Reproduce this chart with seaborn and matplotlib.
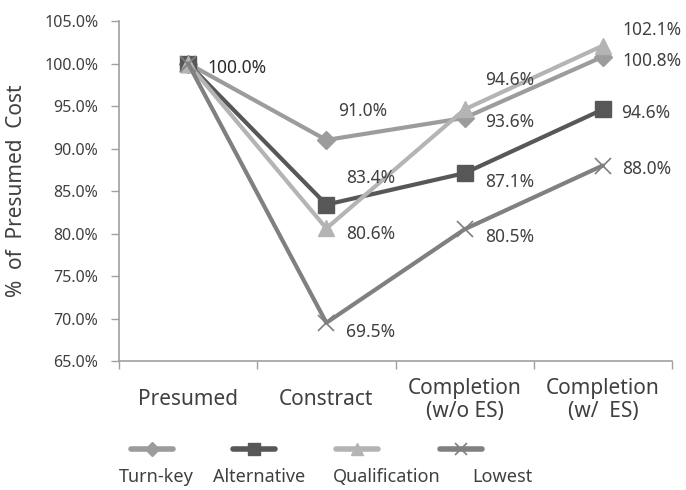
import matplotlib
matplotlib.use("Agg")
import matplotlib.pyplot as plt
from matplotlib.lines import Line2D
import seaborn as sns
import pandas as pd

stages = ["Presumed", "Constract", "Completion\n(w/o ES)", "Completion\n(w/  ES)"]
series_names = ["Turn-key", "Alternative", "Qualification", "Lowest"]
turnkey = [100.0, 91.0, 93.6, 100.8]
alternative = [100.0, 83.4, 87.1, 94.6]
qualification = [100.0, 80.6, 94.6, 102.1]
lowest = [100.0, 69.5, 80.5, 88.0]
yticks = [65, 70, 75, 80, 85, 90, 95, 100, 105]

values = {"Turn-key": turnkey, "Alternative": alternative,
          "Qualification": qualification, "Lowest": lowest}

colors = {"Turn-key": "#9c9c9c", "Alternative": "#575757",
          "Qualification": "#b4b4b4", "Lowest": "#808080"}
markers = {"Turn-key": "D", "Alternative": "s", "Qualification": "^", "Lowest": "x"}
msizes = {"Turn-key": 9, "Alternative": 11, "Qualification": 11, "Lowest": 11.5}

sns.set_style("white")
plt.rcParams["font.family"] = ["Noto Sans", "DejaVu Sans"]

fig = plt.figure(figsize=(6.86, 4.90), dpi=100)
ax = fig.add_axes([119/686, 1-361/490, (672-119)/686, (361-21)/490])

for name in series_names:
    d = pd.DataFrame({"stage": range(len(stages)), "value": values[name]})
    sns.lineplot(data=d, x="stage", y="value", color=colors[name], marker=markers[name],
                 markersize=msizes[name], markeredgecolor=colors[name],
                 markerfacecolor=colors[name],
                 markeredgewidth=1.2 if name == "Lowest" else 1,
                 linewidth=3, ax=ax, sort=False)

ax.set_xlim(-0.5, 3.5)
ax.set_ylim(65, 105)
ax.set_yticks(yticks)
ax.set_yticklabels([f"{t:.1f}%" for t in yticks], fontsize=11.5, color="#404040")
ax.tick_params(axis="y", direction="out", length=6, width=1, color="#a0a0a0", pad=9, left=True)

ax.set_xticks(range(4))
ax.set_xticklabels(stages, fontsize=15, color="#404040", linespacing=1.15)
ax.set_xticks([-0.5, 0.5, 1.5, 2.5, 3.5], minor=True)
ax.tick_params(axis="x", which="major", length=0, pad=28)
ax.tick_params(axis="x", which="minor", direction="out", length=6, width=1, color="#a0a0a0", bottom=True)
for lbl in ax.get_xticklabels():
    lbl.set_va("center")

for s in ["top", "right"]:
    ax.spines[s].set_visible(False)
for s in ["left", "bottom"]:
    ax.spines[s].set_color("#a0a0a0")
    ax.spines[s].set_linewidth(1.2)

ax.set_xlabel("")
ax.set_ylabel("%  of  Presumed  Cost", fontsize=15, color="#404040")
ax.yaxis.set_label_coords((27 - 119) / 553, 0.5)

# data labels: (series, stage index, dx px, dy px)
label_offsets = [
    ("Turn-key", 1, 12, 29.5), ("Turn-key", 2, 21, -4), ("Turn-key", 3, 20, -4),
    ("Alternative", 1, 20, 27), ("Alternative", 2, 21, -9), ("Alternative", 3, 18, -4),
    ("Qualification", 1, 20, -6), ("Qualification", 2, 21, 29), ("Qualification", 3, 20, 15.5),
    ("Lowest", 1, 20, -9.5), ("Lowest", 2, 21, -8), ("Lowest", 3, 19, -3),
]
for name, i, dx, dy in label_offsets:
    v = values[name][i]
    ax.annotate(f"{v:.1f}%", xy=(i, v), xytext=(dx, dy), textcoords="offset pixels",
                ha="left", va="center", fontsize=12.5, color="#404040")
ax.annotate(f"{turnkey[0]:.1f}%", xy=(0, turnkey[0]), xytext=(19, -4), textcoords="offset pixels",
            ha="left", va="center", fontsize=12.5, color="#2a2a2a", fontweight="bold")

# legend: handles on one row, names below
handle_x = [152, 254, 357, 461]
label_x = [156, 259, 387, 502]
for name, hx, lx in zip(series_names, handle_x, label_x):
    h = Line2D([], [], color=colors[name], marker=markers[name], linewidth=4,
               markersize=msizes[name] * 0.8, markeredgecolor=colors[name],
               markerfacecolor=colors[name], markeredgewidth=1.2 if name == "Lowest" else 1)
    fig.legend(handles=[h], labels=[""], loc="center", bbox_to_anchor=(hx/686, 1-450/490),
               frameon=False, handlelength=3.0, handletextpad=0, borderpad=0, borderaxespad=0)
    fig.text(lx/686, 1-477/490, name, ha="center", va="center", fontsize=13, color="#404040")

fig.savefig("out.png", dpi=100)
